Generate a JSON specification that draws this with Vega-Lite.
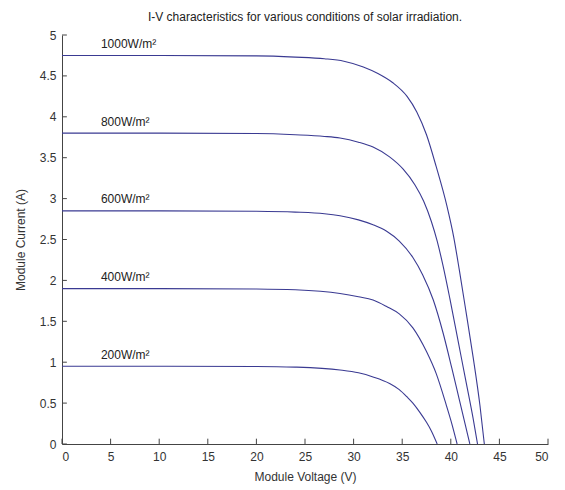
{
  "$schema": "https://vega.github.io/schema/vega-lite/v6.json",
  "width": 486,
  "height": 409,
  "autosize": {"type": "none"},
  "padding": {"left": 62, "top": 35, "right": 17, "bottom": 46},
  "background": "white",
  "title": {"text": "I-V characteristics for various conditions of solar irradiation.", "font": "Liberation Sans", "fontSize": 12, "fontWeight": "normal", "color": "#222222", "anchor": "middle", "offset": 5},
  "config": {
    "view": {"stroke": null},
    "axis": {"grid": false, "ticks": false, "domainColor": "#444444", "labelColor": "#333333", "titleColor": "#333333", "labelFont": "Liberation Sans", "titleFont": "Liberation Sans", "labelFontSize": 12, "titleFontSize": 12, "titleFontWeight": "normal"}
  },
  "datasets": {
    "curves": [
      {"series": "1000", "V": 0, "I": 4.75}, {"series": "1000", "V": 10, "I": 4.75}, {"series": "1000", "V": 20, "I": 4.745}, {"series": "1000", "V": 24, "I": 4.73}, {"series": "1000", "V": 27, "I": 4.71}, {"series": "1000", "V": 29, "I": 4.68}, {"series": "1000", "V": 31, "I": 4.61}, {"series": "1000", "V": 32.5, "I": 4.53}, {"series": "1000", "V": 34, "I": 4.42}, {"series": "1000", "V": 35.5, "I": 4.25}, {"series": "1000", "V": 36.5, "I": 4.06}, {"series": "1000", "V": 37.5, "I": 3.78}, {"series": "1000", "V": 38.5, "I": 3.39}, {"series": "1000", "V": 39.6, "I": 2.91}, {"series": "1000", "V": 40.3, "I": 2.53}, {"series": "1000", "V": 40.9, "I": 2.11}, {"series": "1000", "V": 41.6, "I": 1.59}, {"series": "1000", "V": 42.3, "I": 1.06}, {"series": "1000", "V": 43.0, "I": 0.47}, {"series": "1000", "V": 43.45, "I": 0},
      {"series": "800", "V": 0, "I": 3.8}, {"series": "800", "V": 10, "I": 3.8}, {"series": "800", "V": 20, "I": 3.795}, {"series": "800", "V": 24, "I": 3.78}, {"series": "800", "V": 27, "I": 3.76}, {"series": "800", "V": 28.6, "I": 3.74}, {"series": "800", "V": 30.5, "I": 3.69}, {"series": "800", "V": 32, "I": 3.63}, {"series": "800", "V": 33.7, "I": 3.51}, {"series": "800", "V": 35.1, "I": 3.36}, {"series": "800", "V": 36.3, "I": 3.17}, {"series": "800", "V": 37.2, "I": 2.97}, {"series": "800", "V": 38.0, "I": 2.72}, {"series": "800", "V": 38.6, "I": 2.48}, {"series": "800", "V": 39.2, "I": 2.18}, {"series": "800", "V": 39.9, "I": 1.78}, {"series": "800", "V": 40.75, "I": 1.26}, {"series": "800", "V": 41.6, "I": 0.74}, {"series": "800", "V": 42.3, "I": 0.31}, {"series": "800", "V": 42.75, "I": 0},
      {"series": "600", "V": 0, "I": 2.85}, {"series": "600", "V": 10, "I": 2.85}, {"series": "600", "V": 20, "I": 2.845}, {"series": "600", "V": 24, "I": 2.835}, {"series": "600", "V": 27, "I": 2.815}, {"series": "600", "V": 28.6, "I": 2.79}, {"series": "600", "V": 30.5, "I": 2.74}, {"series": "600", "V": 32, "I": 2.68}, {"series": "600", "V": 33.4, "I": 2.6}, {"series": "600", "V": 34.7, "I": 2.48}, {"series": "600", "V": 36.1, "I": 2.28}, {"series": "600", "V": 37.1, "I": 2.07}, {"series": "600", "V": 38.2, "I": 1.76}, {"series": "600", "V": 39.2, "I": 1.36}, {"series": "600", "V": 40.1, "I": 0.93}, {"series": "600", "V": 40.9, "I": 0.53}, {"series": "600", "V": 41.5, "I": 0.23}, {"series": "600", "V": 41.96, "I": 0},
      {"series": "400", "V": 0, "I": 1.9}, {"series": "400", "V": 10, "I": 1.9}, {"series": "400", "V": 20, "I": 1.895}, {"series": "400", "V": 24, "I": 1.885}, {"series": "400", "V": 28.6, "I": 1.84}, {"series": "400", "V": 30.5, "I": 1.8}, {"series": "400", "V": 32, "I": 1.76}, {"series": "400", "V": 33.4, "I": 1.68}, {"series": "400", "V": 34.7, "I": 1.59}, {"series": "400", "V": 36.1, "I": 1.42}, {"series": "400", "V": 37.5, "I": 1.13}, {"series": "400", "V": 38.5, "I": 0.86}, {"series": "400", "V": 39.55, "I": 0.47}, {"series": "400", "V": 40.1, "I": 0.25}, {"series": "400", "V": 40.65, "I": 0},
      {"series": "200", "V": 0, "I": 0.95}, {"series": "200", "V": 10, "I": 0.95}, {"series": "200", "V": 20, "I": 0.948}, {"series": "200", "V": 24, "I": 0.94}, {"series": "200", "V": 28.6, "I": 0.905}, {"series": "200", "V": 30.5, "I": 0.87}, {"series": "200", "V": 32, "I": 0.82}, {"series": "200", "V": 33.7, "I": 0.74}, {"series": "200", "V": 34.7, "I": 0.665}, {"series": "200", "V": 35.5, "I": 0.575}, {"series": "200", "V": 36.1, "I": 0.5}, {"series": "200", "V": 36.8, "I": 0.39}, {"series": "200", "V": 37.5, "I": 0.265}, {"series": "200", "V": 38.0, "I": 0.16}, {"series": "200", "V": 38.6, "I": 0}
    ],
    "labels": [
      {"label": "1000W/m²", "V": 4, "I": 4.89},
      {"label": "800W/m²", "V": 4, "I": 3.94},
      {"label": "600W/m²", "V": 4, "I": 2.99},
      {"label": "400W/m²", "V": 4, "I": 2.04},
      {"label": "200W/m²", "V": 4, "I": 1.09}
    ],
    "xticks": [{"v": 0}, {"v": 5}, {"v": 10}, {"v": 15}, {"v": 20}, {"v": 25}, {"v": 30}, {"v": 35}, {"v": 40}, {"v": 45}, {"v": 50}],
    "yticks": [{"v": 0}, {"v": 0.5}, {"v": 1}, {"v": 1.5}, {"v": 2}, {"v": 2.5}, {"v": 3}, {"v": 3.5}, {"v": 4}, {"v": 4.5}, {"v": 5}]
  },
  "layer": [
    {
      "data": {"name": "curves"},
      "mark": {"type": "line", "interpolate": "monotone", "color": "#3a3a92", "strokeWidth": 1.1, "clip": true},
      "encoding": {
        "x": {"field": "V", "type": "quantitative", "scale": {"domain": [0, 50], "nice": false}, "axis": {"values": [0, 5, 10, 15, 20, 25, 30, 35, 40, 45, 50], "title": "Module Voltage (V)", "labelPadding": 7, "titlePadding": 9}},
        "y": {"field": "I", "type": "quantitative", "scale": {"domain": [0, 5], "nice": false}, "axis": {"values": [0, 0.5, 1, 1.5, 2, 2.5, 3, 3.5, 4, 4.5, 5], "format": "~g", "title": "Module Current (A)", "labelPadding": 6, "titlePadding": 12}},
        "detail": {"field": "series", "type": "nominal"}
      }
    },
    {
      "data": {"name": "xticks"},
      "mark": {"type": "rule", "color": "#444444", "strokeWidth": 1},
      "encoding": {
        "x": {"field": "v", "type": "quantitative"},
        "y": {"datum": 0},
        "y2": {"datum": 0.065}
      }
    },
    {
      "data": {"name": "yticks"},
      "mark": {"type": "rule", "color": "#444444", "strokeWidth": 1},
      "encoding": {
        "y": {"field": "v", "type": "quantitative"},
        "x": {"datum": 0},
        "x2": {"datum": 0.5}
      }
    },
    {
      "data": {"name": "labels"},
      "mark": {"type": "text", "align": "left", "baseline": "middle", "font": "Liberation Sans", "fontSize": 12, "color": "#222222"},
      "encoding": {
        "x": {"field": "V", "type": "quantitative"},
        "y": {"field": "I", "type": "quantitative"},
        "text": {"field": "label", "type": "nominal"}
      }
    }
  ]
}
